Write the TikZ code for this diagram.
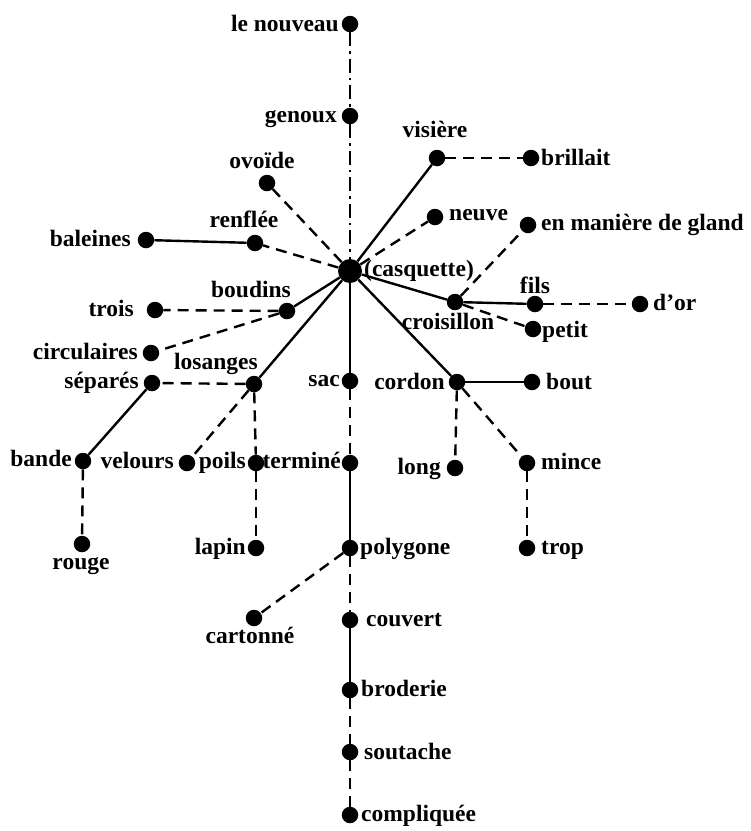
\documentclass[tikz,border=0pt]{standalone}
\usepackage{fontspec}
\setmainfont{Liberation Serif}
\begin{document}
\begin{tikzpicture}[x=1pt,y=-1pt,
  dot/.style={circle,fill=black,inner sep=0pt,minimum size=16.5pt},
  hub/.style={circle,fill=black,inner sep=0pt,minimum size=24pt},
  lbl/.style={inner sep=0pt,font=\fontsize{23.5}{26}\selectfont\bfseries},
  sol/.style={line width=2.4pt},
  dsh/.style={line width=2.4pt,dash pattern=on 11pt off 7pt},
  dd/.style={line width=2.4pt,dash pattern=on 14pt off 5pt on 2.5pt off 5pt}]
\useasboundingbox (0,0) rectangle (751,831);
% dots
\node[hub] (casq) at (350,271) {};
\node[dot] (nouv) at (350,24) {};
\node[dot] (gen) at (350,116) {};
\node[dot] (vis) at (437,158) {};
\node[dot] (bril) at (531,158) {};
\node[dot] (neuve) at (435,217) {};
\node[dot] (gland) at (528,225) {};
\node[dot] (ovo) at (267,183) {};
\node[dot] (renf) at (255,243) {};
\node[dot] (bal) at (146,240) {};
\node[dot] (boud) at (287,311) {};
\node[dot] (trois) at (155,310) {};
\node[dot] (circ) at (151,353) {};
\node[dot] (sep) at (152,383) {};
\node[dot] (los) at (254,384) {};
\node[dot] (crois) at (455,302) {};
\node[dot] (fils) at (535,304) {};
\node[dot] (dor) at (640,304) {};
\node[dot] (petit) at (533,329) {};
\node[dot] (sac) at (350,381) {};
\node[dot] (cord) at (457,382) {};
\node[dot] (bout) at (532,382) {};
\node[dot] (long) at (455,468) {};
\node[dot] (mince) at (527,463) {};
\node[dot] (trop) at (527,548) {};
\node[dot] (bande) at (83,461) {};
\node[dot] (rouge) at (82,544) {};
\node[dot] (vel) at (187,463) {};
\node[dot] (poils) at (256,463) {};
\node[dot] (lapin) at (256,548) {};
\node[dot] (term) at (350,463) {};
\node[dot] (poly) at (350,548) {};
\node[dot] (cart) at (254,618) {};
\node[dot] (couv) at (350,620) {};
\node[dot] (brod) at (350,690) {};
\node[dot] (sout) at (350,752) {};
\node[dot] (comp) at (350,815) {};
% connectors
\draw[dd] (nouv) -- (gen);
\draw[dd] (gen) -- (casq);
\draw[sol] (casq) -- (vis);
\draw[dsh] (vis) -- (bril);
\draw[dsh] (casq) -- (neuve);
\draw[dsh] (casq) -- (ovo);
\draw[dsh] (casq) -- (renf);
\draw[sol] (renf) -- (bal);
\draw[sol] (casq) -- (boud);
\draw[dsh] (boud) -- (trois);
\draw[dsh] (boud) -- (circ);
\draw[sol] (casq) -- (los);
\draw[dsh] (los) -- (sep);
\draw[sol] (sep) -- (bande);
\draw[dsh] (bande) -- (rouge);
\draw[dsh] (los) -- (vel);
\draw[dsh] (los) -- (poils);
\draw[dsh] (poils) -- (lapin);
\draw[sol] (casq) -- (crois);
\draw[dsh] (crois) -- (gland);
\draw[sol] (crois) -- (fils);
\draw[dsh] (fils) -- (dor);
\draw[dsh] (crois) -- (petit);
\draw[sol] (casq) -- (cord);
\draw[sol] (cord) -- (bout);
\draw[dsh] (cord) -- (long);
\draw[dsh] (cord) -- (mince);
\draw[dsh] (mince) -- (trop);
\draw[sol] (casq) -- (sac);
\draw[dsh] (sac) -- (term);
\draw[sol] (term) -- (poly);
\draw[dsh] (poly) -- (cart);
\draw[dsh] (poly) -- (couv);
\draw[sol] (couv) -- (brod);
\draw[dsh] (brod) -- (sout);
\draw[dsh] (sout) -- (comp);
% labels
\node[lbl,anchor=base east] (t-nouv) at (339,31) {le nouveau};
\node[lbl,anchor=base east] (t-gen) at (337,122) {genoux};
\node[lbl,anchor=base] (t-vis) at (435,137) {visière};
\node[lbl,anchor=base west] (t-bril) at (541,165) {brillait};
\node[lbl,anchor=base west] (t-neuve) at (449,220) {neuve};
\node[lbl,anchor=base west] (t-gland) at (541,230) {en manière de gland};
\node[lbl,anchor=base] (t-ovo) at (262,168) {ovoïde};
\node[lbl,anchor=base] (t-renf) at (244,227) {renflée};
\node[lbl,anchor=base east] (t-bal) at (131,246) {baleines};
\node[lbl,anchor=base west] (t-casq) at (364,276) {(casquette)};
\node[lbl,anchor=base] (t-boud) at (251,297) {boudins};
\node[lbl,anchor=base east] (t-trois) at (134,316) {trois};
\node[lbl,anchor=base east] (t-circ) at (138,359) {circulaires};
\node[lbl,anchor=base east] (t-sep) at (139,388) {séparés};
\node[lbl,anchor=base] (t-los) at (216,369) {losanges};
\node[lbl,anchor=base] (t-fils) at (535,293) {fils};
\node[lbl,anchor=base west] (t-dor) at (653,310) {d’or};
\node[lbl,anchor=base] (t-crois) at (448,329) {croisillon};
\node[lbl,anchor=base west] (t-petit) at (542,337) {petit};
\node[lbl,anchor=base east] (t-sac) at (340,386) {sac};
\node[lbl,anchor=base east] (t-cord) at (445,389) {cordon};
\node[lbl,anchor=base west] (t-bout) at (546,389) {bout};
\node[lbl,anchor=base east] (t-long) at (441,474) {long};
\node[lbl,anchor=base west] (t-mince) at (541,469) {mince};
\node[lbl,anchor=base west] (t-trop) at (541,554) {trop};
\node[lbl,anchor=base east] (t-bande) at (72,466) {bande};
\node[lbl,anchor=base] (t-rouge) at (81,569) {rouge};
\node[lbl,anchor=base east] (t-vel) at (174,468) {velours};
\node[lbl,anchor=base east] (t-poils) at (246,468) {poils};
\node[lbl,anchor=base east] (t-term) at (341,468) {terminé};
\node[lbl,anchor=base east] (t-lapin) at (246,554) {lapin};
\node[lbl,anchor=base west] (t-poly) at (360,554) {polygone};
\node[lbl,anchor=base] (t-cart) at (250,643) {cartonné};
\node[lbl,anchor=base west] (t-couv) at (366,626) {couvert};
\node[lbl,anchor=base west] (t-brod) at (361,696) {broderie};
\node[lbl,anchor=base west] (t-sout) at (364,759) {soutache};
\node[lbl,anchor=base west] (t-comp) at (361,821) {compliquée};
\end{tikzpicture}
\end{document}
